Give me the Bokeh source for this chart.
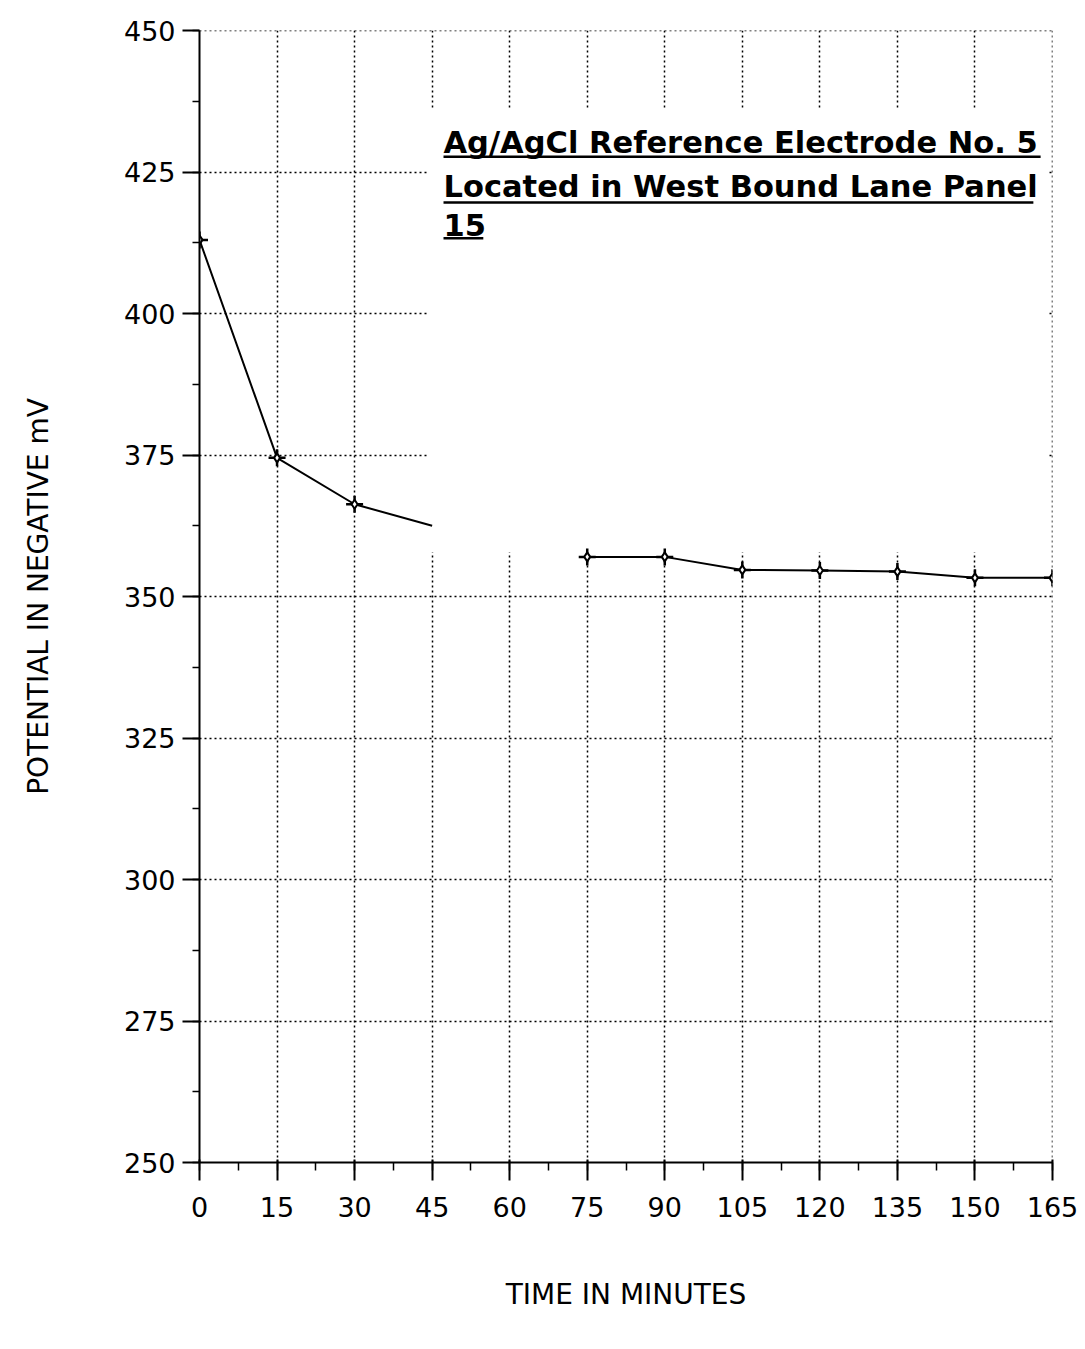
import math
from bokeh.plotting import figure
from bokeh.models import Range1d, SingleIntervalTicker, Label, Span
from bokeh.embed import file_html
from bokeh.resources import INLINE

# ---- data ----
time_min = [0, 15, 30, 45, 60, 75, 90, 105, 120, 135, 150, 165]
potential_mv = [413, 374.5, 366.3, 362.5, math.nan, 357, 357, 354.7, 354.6, 354.4, 353.3, 353.3]
marker_time = [0, 15, 30, 75, 90, 105, 120, 135, 150, 165]
marker_potential = [413, 374.5, 366.3, 357, 357, 354.7, 354.6, 354.4, 353.3, 353.3]
title_lines = ["Ag/AgCl Reference Electrode No. 5", "Located in West Bound Lane Panel", "15"]

FONT = "DejaVu Sans"

p = figure(width=1085, height=1349, output_backend="svg", toolbar_location=None,
           x_range=Range1d(0, 165), y_range=Range1d(250, 450),
           min_border_left=199, min_border_right=33, min_border_top=30, min_border_bottom=187)
p.outline_line_color = None
p.background_fill_color = "white"
p.border_fill_color = "white"

# axes
p.xaxis.ticker = SingleIntervalTicker(interval=15, num_minor_ticks=2)
p.yaxis.ticker = SingleIntervalTicker(interval=25, num_minor_ticks=2)
for ax in (p.xaxis[0], p.yaxis[0]):
    ax.axis_line_color = "black"
    ax.axis_line_width = 2
    ax.major_tick_line_color = "black"
    ax.major_tick_line_width = 2
    ax.minor_tick_line_color = "black"
    ax.minor_tick_line_width = 1.5
    ax.major_label_text_font = FONT
    ax.major_label_text_font_size = "27px"
    ax.major_label_text_color = "black"
    ax.axis_label_text_font = FONT
    ax.axis_label_text_font_style = "normal"
    ax.axis_label_text_color = "black"
p.xaxis.major_tick_out = 18
p.xaxis.major_tick_in = 3
p.xaxis.minor_tick_out = 8
p.xaxis.minor_tick_in = 0
p.xaxis.major_label_standoff = 16
p.xaxis.axis_label = "TIME IN MINUTES"
p.xaxis.axis_label_text_font_size = "28px"
p.xaxis.axis_label_standoff = 58
p.yaxis.major_tick_out = 17
p.yaxis.major_tick_in = 0
p.yaxis.minor_tick_out = 7
p.yaxis.minor_tick_in = 0
p.yaxis.major_label_standoff = 7
p.yaxis.axis_label = "POTENTIAL IN NEGATIVE mV"
p.yaxis.axis_label_text_font_size = "28px"
p.yaxis.axis_label_standoff = 66

# grid
for g in (p.xgrid[0], p.ygrid[0]):
    g.grid_line_color = "black"
    g.grid_line_dash = "2 3"
    g.grid_line_width = 1.5
    g.grid_line_alpha = 1.0

# dotted frame on top and right
p.add_layout(Span(location=450, dimension="width", line_color="black",
                  line_dash="2 3", line_width=1.5))
p.add_layout(Span(location=165, dimension="height", line_color="black",
                  line_dash="2 3", line_width=1.5))

# white area behind the caption (hides the grid there)
p.quad(left=[44.3], right=[164.3], bottom=[357.8], top=[436.0],
       fill_color="white", line_color=None)

# data
p.line(time_min, potential_mv, line_color="black", line_width=2)
p.scatter(marker_time, marker_potential, marker="cross", size=17,
          line_color="black", line_width=2.5)
p.scatter(marker_time, marker_potential, marker="diamond", size=9,
          line_color="black", fill_color="white", line_width=2)

# caption
cap_x = 47.2
cap_y = [430.3, 422.4, 415.7]
under_y = [427.7, 419.6, 413.3]
under_right = [162.7, 161.3, 54.9]
for txt, yy in zip(title_lines, cap_y):
    p.add_layout(Label(x=cap_x, y=yy, text=txt, text_font=FONT,
                       text_font_size="30.5px", text_font_style="bold",
                       text_color="black", text_baseline="alphabetic"))
p.segment(x0=[cap_x] * 3, y0=under_y, x1=under_right, y1=under_y,
          line_color="black", line_width=2.5)

open("out.html", "w").write(file_html(p, INLINE))
